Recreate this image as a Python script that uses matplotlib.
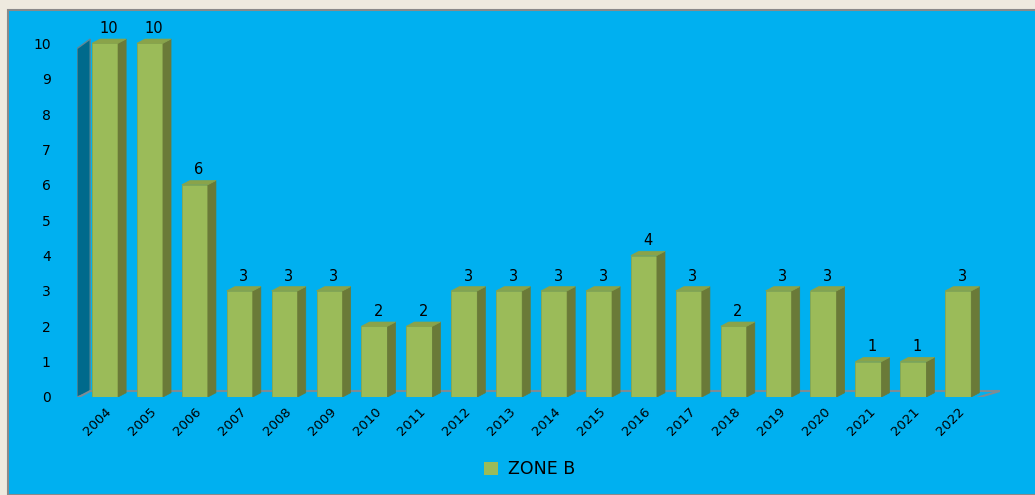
import matplotlib.pyplot as plt
from matplotlib.patches import Polygon, Rectangle, Patch

years = ['2004', '2005', '2006', '2007', '2008', '2009', '2010', '2011', '2012', '2013',
         '2014', '2015', '2016', '2017', '2018', '2019', '2020', '2021', '2021', '2022']
zone_b = [10, 10, 6, 3, 3, 3, 2, 2, 3, 3, 3, 3, 4, 3, 2, 3, 3, 1, 1, 3]

front = '#9bbb59'
side = '#6a7a38'
top = '#8aa34a'
blue = '#00b0f0'

fig = plt.figure(figsize=(10.35, 4.95), dpi=100, facecolor='#eeeadf')
# blue chart panel with grey frame
fig.patches.append(Rectangle((8 / 1035, 0), 1.1, (495 - 10) / 495, transform=fig.transFigure,
                             facecolor=blue, edgecolor='#8a8a8a', linewidth=1.5, zorder=-5))

ax = fig.add_axes([77 / 1035, 98 / 495, 923 / 1035, 382 / 495])
ax.set_facecolor('none')
ax.set_xlim(-0.624, 19.93)
ax.set_ylim(0, 10.8)

w = 0.29
dx, dy = 0.18, 0.12

# back wall and floor
ax.add_patch(Polygon([(-0.624, 0), (-0.624, 9.85), (-0.33, 10.12), (-0.33, 0.14)], closed=True,
                     facecolor='#006a8c', edgecolor='#5f8796', linewidth=1.0, zorder=1))
ax.add_patch(Polygon([(-0.624, -0.03), (19.4, -0.03), (19.93, 0.17), (-0.33, 0.17)], closed=True,
                     facecolor=blue, edgecolor='#7d8c95', linewidth=1.5, zorder=1))

x = list(range(len(years)))
ax.bar(x, zone_b, width=2 * w, color=front, edgecolor='#8aa64c', linewidth=0.6, zorder=3)
for i, v in zip(x, zone_b):
    ax.add_patch(Polygon([(i + w, 0), (i + w + dx, dy), (i + w + dx, v + dy), (i + w, v)],
                         closed=True, facecolor=side, edgecolor=side, linewidth=0.5, zorder=3))
    ax.add_patch(Polygon([(i - w, v), (i + w, v), (i + w + dx, v + dy), (i - w + dx, v + dy)],
                         closed=True, facecolor=top, edgecolor=top, linewidth=0.5, zorder=3))
    ax.text(i + dx / 2, v + 0.42, str(v), ha='center', va='center', fontsize=10.5,
            color='black', fontweight='medium')

ax.set_xticks(x)
ax.set_xticklabels(years, rotation=45, ha='right', rotation_mode='anchor', fontsize=9.5)
ax.set_yticks(range(0, 11))
ax.tick_params(length=0)
ax.tick_params(axis='y', pad=19, labelsize=10)
ax.tick_params(axis='x', pad=6)
for s in ax.spines.values():
    s.set_visible(False)

fig.legend(handles=[Patch(facecolor=front, label='ZONE B')], loc='center',
           bbox_to_anchor=(0.512, 0.052), frameon=False, fontsize=12.5,
           handlelength=0.8, handleheight=0.8, handletextpad=0.6)

fig.savefig('out.png', dpi=100, facecolor=fig.get_facecolor())
